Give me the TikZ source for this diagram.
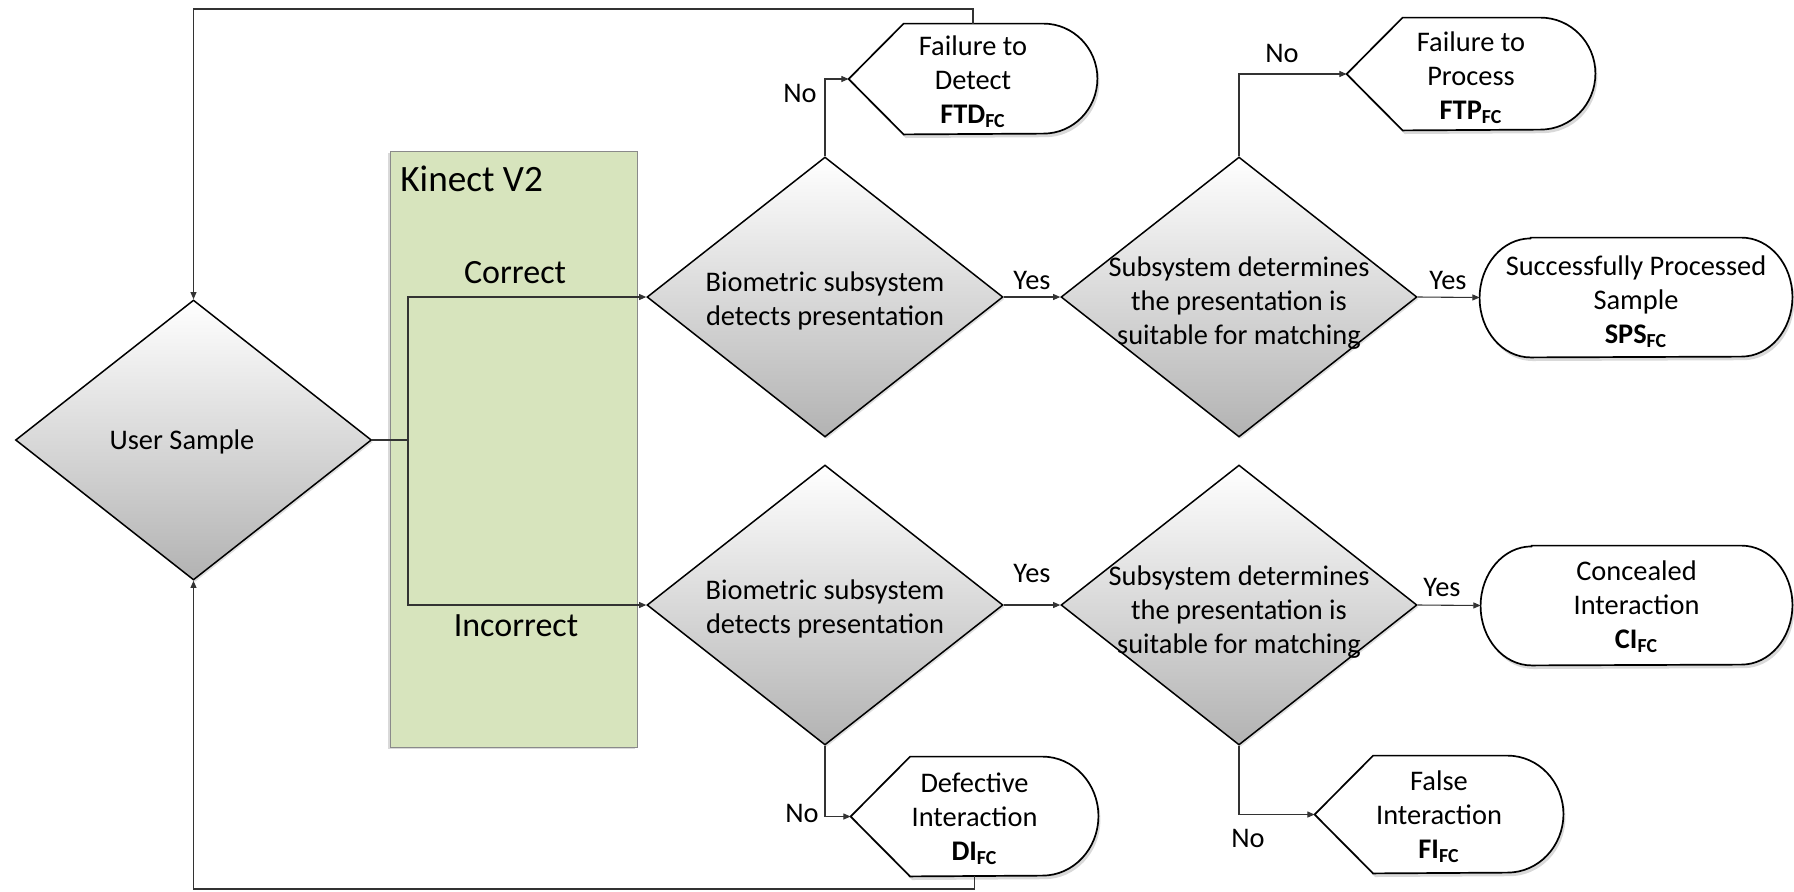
\documentclass[tikz,border=0pt]{standalone}
\usepackage{fontspec}
\setmainfont{Carlito}
\usetikzlibrary{arrows.meta,shapes.geometric,calc,shadows,backgrounds}

\definecolor{kgreen}{HTML}{D7E4BD}
\definecolor{kborder}{HTML}{8A8A8A}

\tikzset{
  txt/.style={font=\fontsize{14.2pt}{17pt}\selectfont, align=center, inner sep=0pt},
  midtxt/.style={font=\fontsize{17pt}{20pt}\selectfont, inner sep=0pt},
  bigtxt/.style={font=\fontsize{18.6pt}{22pt}\selectfont, inner sep=0pt},
  dec/.style={diamond, draw=black, line width=0.75pt, inner sep=0pt,
    minimum width=178pt, minimum height=140pt,
    top color=white, bottom color=black!30,
    drop shadow={shadow xshift=0.8pt, shadow yshift=-1pt, opacity=0.25}},
  kbox/.style={rectangle, draw=kborder, line width=0.5pt, fill=kgreen,
    minimum width=123.5pt, minimum height=298pt, inner sep=0pt,
    drop shadow={shadow xshift=-1.2pt, shadow yshift=-1pt, opacity=0.3}},
  tbox/.style={txt, rectangle},
  termline/.style={draw=black, line width=0.85pt, fill=white,
    drop shadow={shadow xshift=1pt, shadow yshift=-1.8pt, opacity=0.3}},
  link/.style={draw=black!80, line width=0.55pt},
  conn/.style={link, -{Triangle[length=3.6pt,width=3pt]}},
}

% display shape: pointed left end, rounded right end (#2 = half height, #3 = arc x radius)
\newcommand{\dispoutline}[3]{%
  \path[termline] (#1.west) -- ([xshift=#2]#1.north west) -- ([xshift=-#3]#1.north east)
    arc[start angle=90, end angle=-90, x radius=#3, y radius=#2]
    -- ([xshift=#2]#1.south west) -- cycle;}
% terminator shape: rounded at both ends
\newcommand{\stadoutline}[3]{%
  \path[termline] ([xshift=#3]#1.north west) -- ([xshift=-#3]#1.north east)
    arc[start angle=90, end angle=-90, x radius=#3, y radius=#2]
    -- ([xshift=#3]#1.south west)
    arc[start angle=270, end angle=90, x radius=#3, y radius=#2] -- cycle;}

\begin{document}
\begin{tikzpicture}[x=0.5pt,y=-0.5pt]
\useasboundingbox (0,0) rectangle (1794,891);

% sensor block
\node[kbox] (kin) at (513.5,449) {};
\node[bigtxt, anchor=west] (kinlbl) at (400,179) {Kinect V2};
\node[midtxt] (lcorrect) at (515,273) {Correct};
\node[midtxt] (lincorrect) at (516,626) {Incorrect};

% decisions
\node[dec] (us) at (193.5,440) {};
\node[dec] (b1) at (825,297) {};
\node[dec] (b2) at (825,605) {};
\node[dec] (s1) at (1239,297) {};
\node[dec] (s2) at (1239,605) {};

\node[txt] (ust) at (182,442) {User Sample};
\node[txt] (b1t) at (825,301) {Biometric subsystem\\detects presentation};
\node[txt] (b2t) at (825,609) {Biometric subsystem\\detects presentation};
\node[txt] (s1t) at (1239,303) {Subsystem determines\\the presentation is\\suitable for matching};
\node[txt] (s2t) at (1239,612) {Subsystem determines\\the presentation is\\suitable for matching};

% outcomes (outline size from the box, text set slightly low as in the flowchart)
\node[tbox, minimum width=124pt, minimum height=55pt] (ftd) at (973,79) {};
\node[txt] (ftdt) at (973,82) {Failure to\\Detect\\\textbf{FTD\textsubscript{FC}}};
\node[tbox, minimum width=124pt, minimum height=56pt] (ftp) at (1471,74) {};
\node[txt] (ftpt) at (1471,78) {Failure to\\Process\\\textbf{FTP\textsubscript{FC}}};
\node[tbox, minimum width=123.5pt, minimum height=59.5pt] (di) at (974.5,816.5) {};
\node[txt] (dit) at (974.5,819) {Defective\\Interaction\\\textbf{DI\textsubscript{FC}}};
\node[tbox, minimum width=124pt, minimum height=58.5pt] (fi) at (1439,814.5) {};
\node[txt] (fit) at (1439,817) {False\\Interaction\\\textbf{FI\textsubscript{FC}}};
\node[tbox, minimum width=156pt, minimum height=59.5pt] (sps) at (1636,297.5) {};
\node[txt] (spst) at (1636,301.5) {Successfully Processed\\Sample\\\textbf{SPS\textsubscript{FC}}};
\node[tbox, minimum width=155.5pt, minimum height=59.5pt] (ci) at (1636.5,605.5) {};
\node[txt] (cit) at (1636.5,607) {Concealed\\Interaction\\\textbf{CI\textsubscript{FC}}};

\begin{scope}[on background layer]
  \dispoutline{ftd}{27.5pt}{27pt}
  \dispoutline{ftp}{28pt}{27.5pt}
  \dispoutline{di}{29.75pt}{28pt}
  \dispoutline{fi}{29.25pt}{28pt}
  \stadoutline{sps}{29.75pt}{25.5pt}
  \stadoutline{ci}{29.75pt}{25.5pt}
\end{scope}

% connectors
\coordinate (split) at (408,440);
\coordinate (looptop) at (193.5,9);
\coordinate (loopbot) at (193.5,889);
\draw[link] (us.east) -- (split);
\draw[conn] (split) |- (b1.west);
\draw[conn] (split) |- (b2.west);
\draw[conn] (b1.east) -- (s1.west);
\draw[conn] (s1.east) -- (sps.west);
\draw[conn] (b2.east) -- (s2.west);
\draw[conn] (s2.east) -- (ci.west);
\draw[conn] (b1.north) |- (ftd.west);
\draw[conn] (s1.north) |- (ftp.west);
\draw[conn] (b2.south) |- (di.west);
\draw[conn] (s2.south) |- (fi.west);
\draw[conn] (ftd.north) |- (looptop) -- (us.north);
\draw[conn] (di.south) |- (loopbot) -- (us.south);

% branch labels
\node[txt] (no1) at (800,93) {No};
\node[txt] (no2) at (1282,53) {No};
\node[txt] (no3) at (802,813) {No};
\node[txt] (no4) at (1248,838) {No};
\node[txt] (yes1) at (1032,280) {Yes};
\node[txt] (yes2) at (1448,280) {Yes};
\node[txt] (yes3) at (1032,573) {Yes};
\node[txt] (yes4) at (1442,587) {Yes};
\end{tikzpicture}
\end{document}
